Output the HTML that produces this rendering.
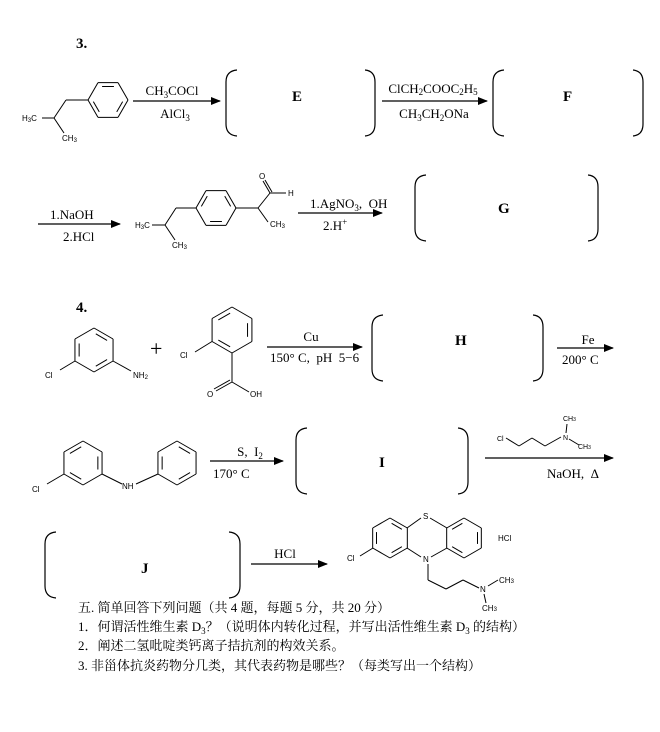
<!DOCTYPE html>
<html><head><meta charset="utf-8"><style>
html,body{margin:0;padding:0;background:#fff;}
svg{display:block;}
.t{font-family:"Liberation Serif",serif;font-size:13px;fill:#000;}
.b{font-family:"Liberation Serif",serif;font-size:15px;font-weight:bold;fill:#000;}
.s{font-family:"Liberation Sans",sans-serif;font-size:8px;fill:#000;}
.c{font-family:"Liberation Serif","Noto Serif CJK SC","Noto Sans CJK SC",serif;font-size:13px;fill:#000;}
</style></head><body>
<svg id="g" width="660" height="732" viewBox="0 0 660 732" xmlns="http://www.w3.org/2000/svg">
<defs><marker id="ar" markerWidth="10" markerHeight="8" refX="9" refY="4" orient="auto" markerUnits="userSpaceOnUse"><path d="M0,0 L10,4 L0,8 z" fill="#000"/></marker></defs>
<g stroke="#000" stroke-width="1.2" fill="none">
<line x1="133" y1="101" x2="220" y2="101" marker-end="url(#ar)"/>
<line x1="382" y1="101" x2="487" y2="101" marker-end="url(#ar)"/>
<line x1="38" y1="224" x2="120" y2="224" marker-end="url(#ar)"/>
<line x1="298" y1="213" x2="382" y2="213" marker-end="url(#ar)"/>
<line x1="267" y1="347" x2="362" y2="347" marker-end="url(#ar)"/>
<line x1="557" y1="348" x2="613" y2="348" marker-end="url(#ar)"/>
<line x1="210" y1="461" x2="283" y2="461" marker-end="url(#ar)"/>
<line x1="485" y1="458" x2="613" y2="458" marker-end="url(#ar)"/>
<line x1="251" y1="564" x2="327" y2="564" marker-end="url(#ar)"/>
<path d="M237,70 Q226,71 226,82 L226,124 Q226,135 237,136"/>
<path d="M365,70 Q375,71 375,82 L375,124 Q375,135 365,136"/>
<path d="M504,70 Q493,71 493,82 L493,124 Q493,135 504,136"/>
<path d="M633,70 Q643,71 643,82 L643,124 Q643,135 633,136"/>
<path d="M426,175 Q415,176 415,187 L415,229 Q415,240 426,241"/>
<path d="M588,175 Q598,176 598,187 L598,229 Q598,240 588,241"/>
<path d="M383,315 Q372,316 372,327 L372,369 Q372,380 383,381"/>
<path d="M533,315 Q543,316 543,327 L543,369 Q543,380 533,381"/>
<path d="M307,428 Q296,429 296,440 L296,482 Q296,493 307,494"/>
<path d="M458,428 Q468,429 468,440 L468,482 Q468,493 458,494"/>
<path d="M56,532 Q45,533 45,544 L45,586 Q45,597 56,598"/>
<path d="M229,532 Q240,533 240,544 L240,586 Q240,597 229,598"/>
<g id="mol" stroke-width="1"></g>
</g>
<text class="b" x="76" y="48">3.</text>
<text class="b" x="76" y="312">4.</text>
<text class="s" x="22" y="121">H<tspan font-size="6" dy="1">3</tspan><tspan dy="-1">C</tspan></text>
<text class="s" x="62" y="141">CH<tspan font-size="6" dy="1">3</tspan></text>
<text class="t" x="172" y="95" text-anchor="middle">CH<tspan font-size="9" dy="3">3</tspan><tspan dy="-3">COCl</tspan></text>
<text class="t" x="175" y="118" text-anchor="middle">AlCl<tspan font-size="9" dy="3">3</tspan></text>
<text class="b" x="292" y="101">E</text>
<text class="t" x="433" y="93" text-anchor="middle">ClCH<tspan font-size="9" dy="2">2</tspan><tspan dy="-2">COOC</tspan><tspan font-size="9" dy="2">2</tspan><tspan dy="-2">H</tspan><tspan font-size="9" dy="2">5</tspan></text>
<text class="t" x="434" y="118" text-anchor="middle">CH<tspan font-size="9" dy="3">3</tspan><tspan dy="-3">CH</tspan><tspan font-size="9" dy="3">2</tspan><tspan dy="-3">ONa</tspan></text>
<text class="b" x="563" y="101">F</text>
<text class="t" x="50" y="219">1.NaOH</text>
<text class="t" x="63" y="241">2.HCl</text>
<text class="s" x="135" y="228">H<tspan font-size="6" dy="1">3</tspan><tspan dy="-1">C</tspan></text>
<text class="s" x="172" y="248">CH<tspan font-size="6" dy="1">3</tspan></text>
<text class="s" x="259" y="179">O</text>
<text class="s" x="288" y="196">H</text>
<text class="s" x="270" y="227">CH<tspan font-size="6" dy="1">3</tspan></text>
<text class="t" x="310" y="208" xml:space="preserve">1.AgNO<tspan font-size="9" dy="3">3</tspan><tspan dy="-3">,  OH</tspan></text>
<text class="t" x="323" y="230">2.H<tspan font-size="9" dy="-5">+</tspan></text>
<text class="b" x="498" y="213">G</text>
<text class="s" x="45" y="378">Cl</text>
<text class="s" x="133" y="378">NH<tspan font-size="6" dy="1">2</tspan></text>
<text class="t" x="150" y="356" style="font-size:22px">+</text>
<text class="s" x="180" y="358">Cl</text>
<text class="s" x="207" y="397">O</text>
<text class="s" x="250" y="397">OH</text>
<text class="t" x="311" y="341" text-anchor="middle">Cu</text>
<text class="t" x="270" y="362" xml:space="preserve">150° C,  pH  5−6</text>
<text class="b" x="455" y="345">H</text>
<text class="t" x="588" y="344" text-anchor="middle">Fe</text>
<text class="t" x="562" y="364">200° C</text>
<text class="s" x="32" y="492">Cl</text>
<text class="s" x="122" y="489">NH</text>
<text class="t" x="250" y="456" text-anchor="middle" xml:space="preserve">S,  I<tspan font-size="9" dy="3">2</tspan></text>
<text class="t" x="213" y="478">170° C</text>
<text class="b" x="379" y="467">I</text>
<text class="s" x="497" y="441" style="font-size:7px">Cl</text>
<text class="s" x="563" y="440" style="font-size:7px">N</text>
<text class="s" x="563" y="421" style="font-size:7px">CH<tspan font-size="5">3</tspan></text>
<text class="s" x="578" y="449" style="font-size:7px">CH<tspan font-size="5">3</tspan></text>
<text class="t" x="573" y="478" text-anchor="middle" xml:space="preserve">NaOH,  Δ</text>
<text class="b" x="141" y="573">J</text>
<text class="t" x="285" y="558" text-anchor="middle">HCl</text>
<text class="s" x="423" y="519">S</text>
<text class="s" x="423" y="562">N</text>
<text class="s" x="347" y="561">Cl</text>
<text class="s" x="480" y="592">N</text>
<text class="s" x="499" y="583">CH<tspan font-size="6">3</tspan></text>
<text class="s" x="482" y="611">CH<tspan font-size="6">3</tspan></text>
<text class="s" x="498" y="541">HCl</text>
<text class="c" x="78" y="612">五. 简单回答下列问题（共 4 题，每题 5 分，共 20 分）</text>
<text class="c" x="78" y="631">1．何谓活性维生素 D<tspan font-size="9" dy="3">3</tspan><tspan dy="-3">？（说明体内转化过程，并写出活性维生素 D</tspan><tspan font-size="9" dy="3">3</tspan><tspan dy="-3"> 的结构）</tspan></text>
<text class="c" x="78" y="650">2．阐述二氢吡啶类钙离子拮抗剂的构效关系。</text>
<text class="c" x="78" y="670">3. 非甾体抗炎药物分几类，其代表药物是哪些？（每类写出一个结构）</text>
</svg>
<script>
var g=document.getElementById('mol'),o='';
function L(a,b,c,d){o+='<line x1="'+a+'" y1="'+b+'" x2="'+c+'" y2="'+d+'"/>';}
function ring(cx,cy,r,start,dbl){var p=[];for(var i=0;i<6;i++){var a=(start+60*i)*Math.PI/180;p.push([cx+r*Math.cos(a),cy+r*Math.sin(a)]);}
for(var i=0;i<6;i++){var A=p[i],B=p[(i+1)%6];L(A[0],A[1],B[0],B[1]);
if(dbl.indexOf(i)>=0){var k=0.78;var a1=[cx+(A[0]-cx)*k,cy+(A[1]-cy)*k],b1=[cx+(B[0]-cx)*k,cy+(B[1]-cy)*k];
var m=0.12;L(a1[0]+(b1[0]-a1[0])*m,a1[1]+(b1[1]-a1[1])*m,b1[0]-(b1[0]-a1[0])*m,b1[1]-(b1[1]-a1[1])*m);}}}
ring(108,100,20,0,[0,2,4]);L(88,100,66,100);L(66,100,54,118);L(54,118,42,118);L(54,118,64,133);
ring(216,208,20,0,[1,3,5]);L(196,208,176,208);L(176,208,165,225);L(165,225,152,225);L(165,225,175,240);
L(236,208,258,208);L(258,208,270,193);L(270,193,263,181);L(272,192,265,180);L(270,193,286,193);L(258,208,268,222);
ring(94,350,22,-90,[0,2,4]);L(75,361,60,370);L(113,361,131,371);
ring(232,330,23,-90,[1,3,5]);L(212,341.5,195,352);L(232,353,232,382);L(232,382,216,391);L(230,380,214,389);L(232,382,249,392);
ring(83,463,22,-90,[1,3,5]);ring(177,463,22,-90,[0,2,4]);L(64,474,47,484);L(102,474,122,484);L(136,484,158,474);
L(506,438,519,446);L(519,446,532,438);L(532,438,545,446);L(545,446,561,437);L(566,433,567,424);L(569,439,579,445);
ring(390,538,20,-90,[0,2,4]);ring(464,538,20,-90,[1,3,5]);
L(407,528,421,518);L(430,518,447,528);L(407,548,421,557);L(431,557,447,548);
L(373,548,360,556);L(428,564,428,580);L(428,580,446,589);L(446,589,463,580);L(463,580,479,588);L(488,586,498,580);L(484,594,486,603);
g.innerHTML=o;
</script>
</body></html>
